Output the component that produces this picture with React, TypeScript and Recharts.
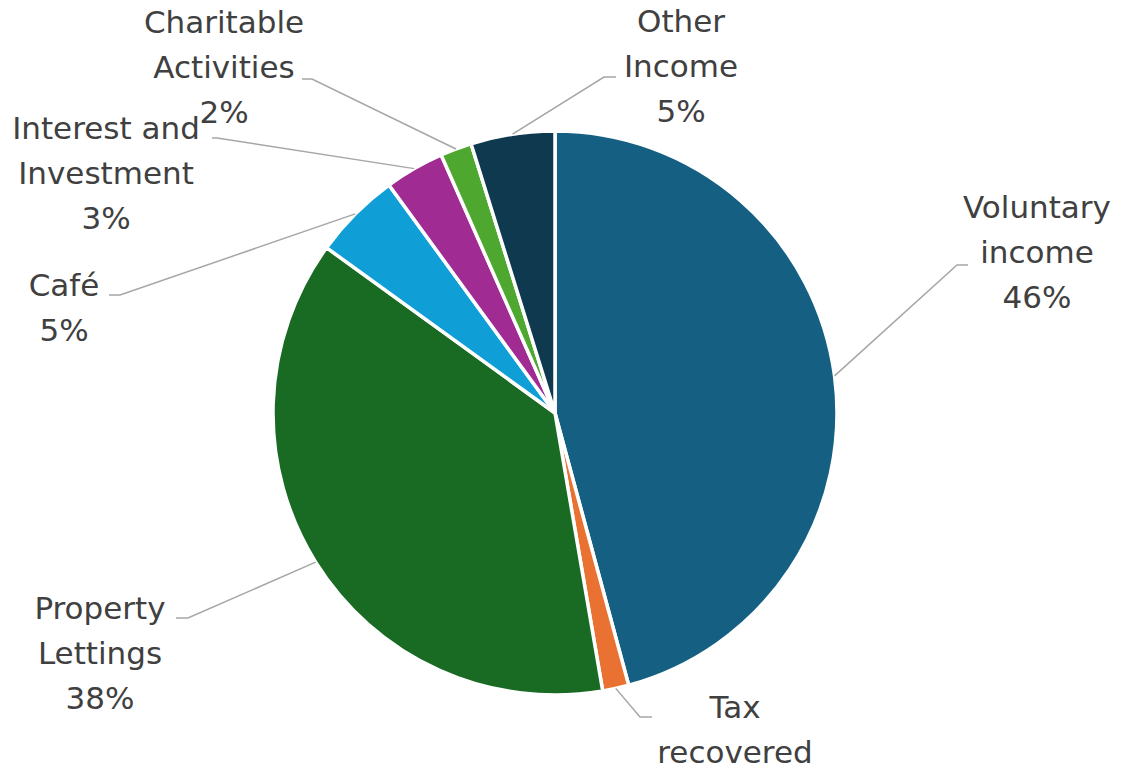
import React from "react";
import { PieChart, Pie, Cell } from "recharts";

const categories = [
  "Voluntary income",
  "Tax recovered",
  "Property Lettings",
  "Café",
  "Interest and Investment",
  "Charitable Activities",
  "Other Income",
];
const amounts = [45.7, 1.5, 37.6, 5.0, 3.4, 1.8, 4.8];
const colors = ["#156082", "#E97132", "#196B24", "#0F9ED5", "#A02B93", "#4EA72E", "#0F394F"];

// how each label is wrapped and where it sits, relative to the pie centre
const labelLines = [
  ["Voluntary", "income"],
  ["Tax", "recovered"],
  ["Property", "Lettings"],
  ["Café"],
  ["Interest and", "Investment"],
  ["Charitable", "Activities"],
  ["Other", "Income"],
];
const labelLayout = [
  { ex: 402, ey: -148, tail: 11, tx: 482, ty: -195 },
  { ex: 85, ey: 304, tail: 12, tx: 180, ty: 305 },
  { ex: -367, ey: 205, tail: -12, tx: -455, ty: 206 },
  { ex: -435, ey: -118, tail: -11, tx: -491, ty: -117 },
  { ex: -338, ey: -275, tail: -5, tx: -449, ty: -274 },
  { ex: -243, ey: -334, tail: -10, tx: -331, ty: -380 },
  { ex: 49, ey: -336, tail: 12, tx: 126, ty: -381 },
];

const data = categories.map((name, i) => ({ name, value: amounts[i] }));

const RADIAN = Math.PI / 180;
const LINE_GAP = 45;

const renderLabel = (props: any) => {
  const { cx, cy, midAngle, outerRadius, percent, index } = props;
  const lay = labelLayout[index];
  const sx = cx + outerRadius * Math.cos(-midAngle * RADIAN);
  const sy = cy + outerRadius * Math.sin(-midAngle * RADIAN);
  const ex = cx + lay.ex;
  const ey = cy + lay.ey;
  const lines = [...labelLines[index], Math.round(percent * 100) + "%"];
  return (
    <g>
      <polyline
        points={`${sx},${sy} ${ex},${ey} ${ex + lay.tail},${ey}`}
        fill="none"
        stroke="#a6a6a6"
        strokeWidth={1.5}
      />
      <text
        x={cx + lay.tx}
        y={cy + lay.ty}
        textAnchor="middle"
        fill="#404040"
        fontSize={31}
        fontFamily="'DejaVu Sans', sans-serif"
      >
        {lines.map((l, i) => (
          <tspan key={i} x={cx + lay.tx} y={cy + lay.ty + i * LINE_GAP}>
            {l}
          </tspan>
        ))}
      </text>
    </g>
  );
};

export default function App() {
  return (
    <div style={{ position: "absolute", left: 0, top: 0, width: 1122, height: 772, background: "#fff" }}>
      <PieChart width={1122} height={772} margin={{ top: 0, right: 0, bottom: 0, left: 0 }}>
        <Pie
          data={data}
          dataKey="value"
          nameKey="name"
          cx={555}
          cy={413}
          outerRadius={282}
          startAngle={90}
          endAngle={-270}
          stroke="#ffffff"
          strokeWidth={3.5}
          label={renderLabel}
          labelLine={false}
          isAnimationActive={false}
        >
          {data.map((d, i) => (
            <Cell key={d.name} fill={colors[i]} />
          ))}
        </Pie>
      </PieChart>
    </div>
  );
}
